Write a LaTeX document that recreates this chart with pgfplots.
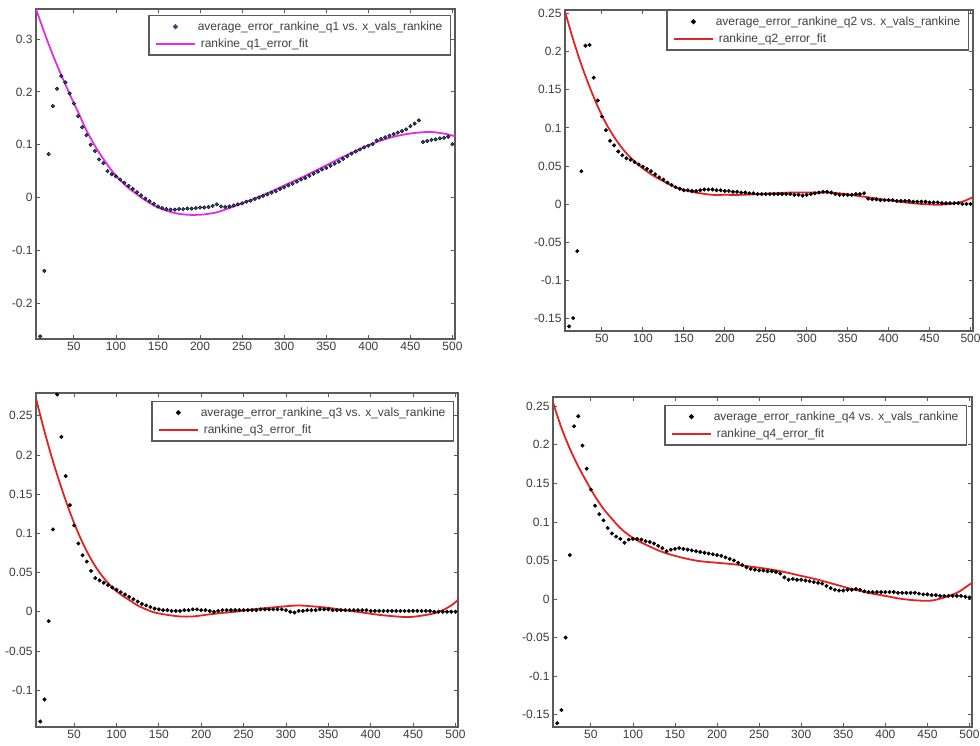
\documentclass[border=0pt]{standalone}
\usepackage{fontspec}
\setmainfont{Liberation Sans}
\usepackage{pgfplots}
\pgfplotsset{compat=1.18}
\definecolor{axgray}{RGB}{90,90,90}
\definecolor{tickgray}{RGB}{60,60,60}
\definecolor{mblue}{RGB}{40,75,135}
\definecolor{mmag}{RGB}{228,45,228}
\definecolor{mred}{RGB}{228,35,35}
\pgfplotsset{
  panel/.style={
    scale only axis, anchor=south west,
    axis line style={axgray, line width=1.3pt},
    tick style={axgray, line width=0.8pt},
    major tick length=4pt, tick align=inside,
    xmin=5, xmax=503,
    xtick={50,100,150,200,250,300,350,400,450,500},
    xticklabels={50,100,150,200,250,300,350,400,450,500},
    ticklabel style={font=\fontsize{12}{14}\selectfont, text=tickgray},
    legend cell align=left,
    legend style={at={(1,1)}, anchor=north east, draw=axgray, line width=1.2pt, fill=white,
      font=\fontsize{12}{14}\selectfont\color{black!75}, inner xsep=6pt, inner ysep=4pt,
      row sep=3pt},
  },
  dataptsblue/.style={only marks, mark=*, mark size=1.8pt, mark options={draw=none, fill=mblue},
    legend image code/.code={\fill[mblue] (19.5pt,0pt) circle (1.8pt);}},
  dataptsblack/.style={only marks, mark=*, mark size=1.8pt, mark options={draw=none, fill=black},
    legend image code/.code={\fill[black] (19.5pt,0pt) circle (1.8pt);}},
  fitmag/.style={no marks, smooth, line width=1.8pt, color=mmag,
    legend image code/.code={\draw[mmag, line width=1.8pt] (0pt,0pt) -- (39pt,0pt);}},
  fitred/.style={no marks, smooth, line width=1.8pt, color=mred,
    legend image code/.code={\draw[mred, line width=1.8pt] (0pt,0pt) -- (39pt,0pt);}},
}
\begin{document}
\begin{tikzpicture}
\fill[white] (0pt,0pt) rectangle (980pt,746pt);
\useasboundingbox (0pt,0pt) rectangle (980pt,746pt);

% ---------- Panel 1 ----------
\begin{axis}[panel, at={(36pt,407pt)}, width=419pt, height=330pt,
  ymin=-0.268, ymax=0.357,
  ytick={-0.2,-0.1,0,0.1,0.2,0.3}, yticklabels={-0.2,-0.1,0,0.1,0.2,0.3},
  legend style={xshift=-4pt, yshift=-6pt}]
\addplot[dataptsblue] table {
10 -0.263
15 -0.139
20 0.082
25 0.173
30 0.206
35 0.230
40 0.218
45 0.197
50 0.178
55 0.154
60 0.133
65 0.118
70 0.100
75 0.088
80 0.072
85 0.065
90 0.050
95 0.044
100 0.040
105 0.034
110 0.028
115 0.022
120 0.016
125 0.010
130 0.004
135 -0.002
140 -0.007
145 -0.012
150 -0.017
155 -0.020
160 -0.022
165 -0.023
170 -0.023
175 -0.022
180 -0.022
185 -0.021
190 -0.021
195 -0.020
200 -0.019
205 -0.019
210 -0.018
215 -0.016
220 -0.013
225 -0.017
230 -0.018
235 -0.017
240 -0.015
245 -0.013
250 -0.011
255 -0.008
260 -0.006
265 -0.003
270 0.000
275 0.003
280 0.006
285 0.009
290 0.012
295 0.016
300 0.019
305 0.023
310 0.026
315 0.030
320 0.034
325 0.037
330 0.041
335 0.045
340 0.049
345 0.053
350 0.056
355 0.060
360 0.064
365 0.068
370 0.073
375 0.078
380 0.083
385 0.087
390 0.091
395 0.095
400 0.098
405 0.101
410 0.108
415 0.111
420 0.114
425 0.117
430 0.120
435 0.123
440 0.126
445 0.129
450 0.135
455 0.140
460 0.146
465 0.105
470 0.107
475 0.109
480 0.110
485 0.112
490 0.113
495 0.115
500 0.101
};
\addlegendentry{average\_error\_rankine\_q1 vs. x\_vals\_rankine}
\addplot[fitmag] table {
5 0.357
15 0.312
25 0.270
35 0.232
45 0.196
55 0.162
65 0.127
75 0.098
85 0.073
95 0.051
105 0.033
115 0.018
130 0.000
145 -0.015
160 -0.025
175 -0.031
190 -0.033
205 -0.032
220 -0.028
235 -0.020
250 -0.011
265 -0.002
280 0.008
295 0.019
310 0.030
325 0.041
340 0.053
355 0.065
370 0.077
385 0.088
400 0.099
415 0.108
430 0.115
445 0.120
460 0.123
475 0.124
490 0.121
503 0.116
};
\addlegendentry{\hspace{3pt}rankine\_q1\_error\_fit}
\end{axis}

% ---------- Panel 2 ----------
\begin{axis}[panel, at={(565pt,415pt)}, width=408pt, height=321pt,
  ymin=-0.167, ymax=0.255,
  ytick={-0.15,-0.1,-0.05,0,0.05,0.1,0.15,0.2,0.25}, yticklabels={-0.15,-0.1,-0.05,0,0.05,0.1,0.15,0.2,0.25},
  legend style={xshift=-4pt, yshift=0pt}]
\addplot[dataptsblack] table {
10 -0.161
15 -0.150
20 -0.062
25 0.043
30 0.208
35 0.209
40 0.166
45 0.136
50 0.115
55 0.097
60 0.083
65 0.077
70 0.069
75 0.064
80 0.060
85 0.058
90 0.055
95 0.052
100 0.049
105 0.046
110 0.043
115 0.039
120 0.035
125 0.032
130 0.028
135 0.025
140 0.022
145 0.020
150 0.018
155 0.018
160 0.017
165 0.017
170 0.018
175 0.019
180 0.019
185 0.019
190 0.018
195 0.018
200 0.017
205 0.017
210 0.016
215 0.016
220 0.015
225 0.015
230 0.014
235 0.014
240 0.013
245 0.013
250 0.013
255 0.013
260 0.013
265 0.013
270 0.013
275 0.013
280 0.013
285 0.012
290 0.012
295 0.011
300 0.012
305 0.013
310 0.014
315 0.015
320 0.016
325 0.016
330 0.015
335 0.013
340 0.012
345 0.012
350 0.012
355 0.012
360 0.013
365 0.013
370 0.014
375 0.007
380 0.006
385 0.006
390 0.005
395 0.005
400 0.005
405 0.005
410 0.004
415 0.004
420 0.004
425 0.004
430 0.003
435 0.003
440 0.003
445 0.003
450 0.002
455 0.002
460 0.002
465 0.001
470 0.001
475 0.001
480 0.001
485 0.001
490 0.000
495 0.000
500 0.000
};
\addlegendentry{average\_error\_rankine\_q2 vs. x\_vals\_rankine}
\addplot[fitred] table {
5 0.253
15 0.216
25 0.183
35 0.154
45 0.128
55 0.106
65 0.088
75 0.073
85 0.061
95 0.051
110 0.039
125 0.030
140 0.022
155 0.017
170 0.014
185 0.012
200 0.012
220 0.012
240 0.013
260 0.014
280 0.015
300 0.015
320 0.015
340 0.014
360 0.011
380 0.008
400 0.005
420 0.002
440 0.000
460 -0.001
475 0.000
490 0.003
503 0.009
};
\addlegendentry{\hspace{3pt}rankine\_q2\_error\_fit}
\end{axis}

% ---------- Panel 3 ----------
\begin{axis}[panel, at={(36pt,19pt)}, width=422pt, height=334pt,
  ymin=-0.147, ymax=0.279,
  ytick={-0.1,-0.05,0,0.05,0.1,0.15,0.2,0.25}, yticklabels={-0.1,-0.05,0,0.05,0.1,0.15,0.2,0.25},
  legend style={xshift=-4pt, yshift=-8pt}]
\addplot[dataptsblack] table {
10 -0.140
15 -0.112
20 -0.012
25 0.105
30 0.277
35 0.223
40 0.173
45 0.136
50 0.110
55 0.087
60 0.072
65 0.064
70 0.052
75 0.043
80 0.040
85 0.037
90 0.034
95 0.031
100 0.028
105 0.025
110 0.022
115 0.019
120 0.016
125 0.013
130 0.010
135 0.008
140 0.006
145 0.004
150 0.003
155 0.002
160 0.002
165 0.001
170 0.001
175 0.001
180 0.002
185 0.002
190 0.003
195 0.003
200 0.002
205 0.002
210 0.001
215 0.000
220 0.001
225 0.002
230 0.002
235 0.002
240 0.002
245 0.002
250 0.002
255 0.002
260 0.002
265 0.002
270 0.003
275 0.003
280 0.003
285 0.003
290 0.003
295 0.003
300 0.002
305 0.000
310 -0.001
315 0.001
320 0.001
325 0.002
330 0.002
335 0.002
340 0.003
345 0.003
350 0.003
355 0.002
360 0.002
365 0.002
370 0.002
375 0.002
380 0.002
385 0.002
390 0.002
395 0.002
400 0.001
405 0.001
410 0.001
415 0.001
420 0.001
425 0.001
430 0.001
435 0.001
440 0.001
445 0.001
450 0.001
455 0.001
460 0.001
465 0.001
470 0.001
475 0.000
480 0.000
485 0.000
490 0.000
495 0.000
500 0.000
};
\addlegendentry{average\_error\_rankine\_q3 vs. x\_vals\_rankine}
\addplot[fitred] table {
5 0.272
15 0.230
25 0.192
35 0.158
45 0.127
55 0.100
65 0.077
75 0.058
85 0.043
95 0.031
105 0.022
115 0.015
125 0.008
135 0.003
145 -0.001
160 -0.004
175 -0.006
190 -0.006
205 -0.004
220 -0.002
240 0.000
260 0.003
280 0.005
300 0.007
315 0.008
330 0.007
350 0.005
370 0.002
390 -0.001
410 -0.004
430 -0.006
445 -0.0068
460 -0.005
475 -0.002
485 0.002
495 0.008
503 0.015
};
\addlegendentry{\hspace{3pt}rankine\_q3\_error\_fit}
\end{axis}

% ---------- Panel 4 ----------
\begin{axis}[panel, at={(553pt,19pt)}, width=419pt, height=330pt,
  ymin=-0.166, ymax=0.262,
  ytick={-0.15,-0.1,-0.05,0,0.05,0.1,0.15,0.2,0.25}, yticklabels={-0.15,-0.1,-0.05,0,0.05,0.1,0.15,0.2,0.25},
  legend style={xshift=-5pt, yshift=-8pt}]
\addplot[dataptsblack] table {
10 -0.161
15 -0.144
20 -0.050
25 0.057
30 0.224
35 0.237
40 0.199
45 0.169
50 0.142
55 0.121
60 0.110
65 0.102
70 0.092
75 0.085
80 0.081
85 0.078
90 0.073
95 0.077
100 0.078
105 0.078
110 0.077
115 0.075
120 0.074
125 0.072
130 0.069
135 0.066
140 0.062
145 0.064
150 0.065
155 0.066
160 0.065
165 0.064
170 0.063
175 0.062
180 0.061
185 0.060
190 0.059
195 0.058
200 0.057
205 0.056
210 0.054
215 0.052
220 0.050
225 0.047
230 0.044
235 0.041
240 0.039
245 0.038
250 0.037
255 0.037
260 0.036
265 0.036
270 0.035
275 0.033
280 0.028
285 0.025
290 0.026
295 0.025
300 0.025
305 0.024
310 0.023
315 0.022
320 0.021
325 0.020
330 0.017
335 0.014
340 0.012
345 0.011
350 0.011
355 0.012
360 0.012
365 0.013
370 0.012
375 0.010
380 0.009
385 0.009
390 0.009
395 0.009
400 0.009
405 0.009
410 0.009
415 0.008
420 0.008
425 0.008
430 0.008
435 0.008
440 0.007
445 0.006
450 0.006
455 0.005
460 0.005
465 0.004
470 0.004
475 0.004
480 0.004
485 0.004
490 0.004
495 0.003
500 0.002
};
\addlegendentry{average\_error\_rankine\_q4 vs. x\_vals\_rankine}
\addplot[fitred] table {
5 0.255
15 0.222
25 0.195
35 0.172
45 0.152
55 0.133
65 0.117
75 0.104
85 0.092
95 0.083
105 0.076
120 0.068
135 0.061
150 0.056
165 0.052
180 0.049
200 0.047
220 0.045
240 0.042
260 0.039
280 0.035
300 0.030
320 0.025
340 0.019
360 0.013
380 0.008
400 0.004
420 0.000
440 -0.002
455 -0.002
470 0.002
485 0.008
495 0.015
503 0.021
};
\addlegendentry{\hspace{3pt}rankine\_q4\_error\_fit}
\end{axis}
\end{tikzpicture}
\end{document}
